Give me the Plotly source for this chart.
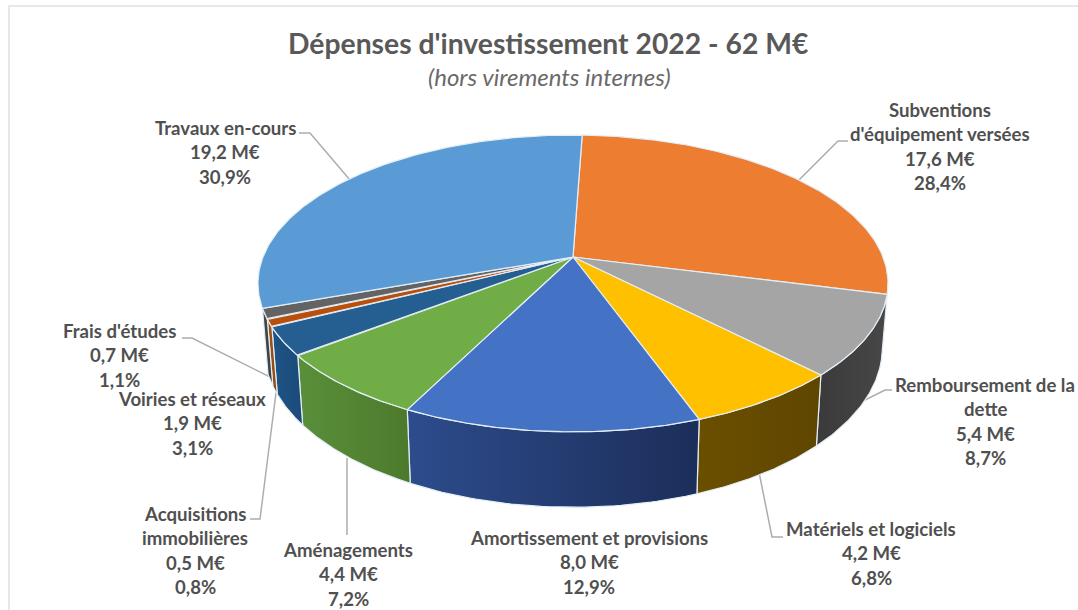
import numpy as np
import plotly.graph_objects as go

categories = ["Subventions d'équipement versées", "Remboursement de la dette", "Matériels et logiciels",
              "Amortissement et provisions", "Aménagements", "Voiries et réseaux",
              "Acquisitions immobilières", "Frais d'études", "Travaux en-cours"]
values = [17.6, 5.4, 4.2, 8.0, 4.4, 1.9, 0.5, 0.7, 19.2]
value_labels = ["17,6 M€", "5,4 M€", "4,2 M€", "8,0 M€", "4,4 M€", "1,9 M€", "0,5 M€", "0,7 M€", "19,2 M€"]
percent_labels = ["28,4%", "8,7%", "6,8%", "12,9%", "7,2%", "3,1%", "0,8%", "1,1%", "30,9%"]
name_lines = [["Subventions", "d'équipement versées"], ["Remboursement de la", "dette"], ["Matériels et logiciels"],
              ["Amortissement et provisions"], ["Aménagements"], ["Voiries et réseaux"],
              ["Acquisitions", "immobilières"], ["Frais d'études"], ["Travaux en-cours"]]
top_colors = ["#ED7D31", "#A5A5A5", "#FFC000", "#4472C4", "#70AD47", "#255E91", "#B84F0C", "#636363", "#5B9BD5"]
wall_left = [None, "#3A3A3A", "#6B4F00", "#2D4C8C", "#5A8F3A", "#1F5487", "#A0561F", "#4A4A4A", None]
wall_right = [None, "#474747", "#5F4600", "#1C2E5A", "#4C7A2C", "#1A4A78", "#8C480E", "#3C3C3C", None]

# label placement (centre x, y of first line)
label_pos = [(940, 110), (985, 385), (871, 529), (589, 538), (348, 550), (192, 399), (195, 514), (119, 331), (225, 128)]
LINE = 24.4
EDGE = "#E4EEF6"

# projection of the tilted disc
X0, Y0, A, B, K, H = 573, 257, 310, 143.7, 0.178, 62
START = 2.0


def project(theta, z=0.0):
    u, v = np.sin(theta), -np.cos(theta)
    d = 1 - K * v
    xs = X0 + A * u / d * (1 - 0.018 * z)
    ys = Y0 + (B * v + H * z) / d
    return xs, ys


total = sum(values)
edges = np.radians(START + np.concatenate([[0], np.cumsum(values)]) / total * 360)

fig = go.Figure()

# side walls
for i, c in enumerate(categories):
    if wall_left[i] is None:
        continue
    t = np.linspace(edges[i], edges[i + 1], 50)
    x1, y1 = project(t)
    x2, y2 = project(t, 1.0)
    fig.add_trace(go.Scatter(
        x=np.r_[x1, x2[::-1], x1[0]], y=np.r_[y1, y2[::-1], y1[0]],
        mode="lines", fill="toself", line=dict(color=EDGE, width=1.2),
        fillgradient=dict(type="horizontal", colorscale=[[0, wall_left[i]], [1, wall_right[i]]]),
        hoverinfo="skip", showlegend=False))

# top face
for i, c in enumerate(categories):
    t = np.linspace(edges[i], edges[i + 1], 120)
    x1, y1 = project(t)
    fig.add_trace(go.Scatter(
        x=np.r_[X0, x1, X0], y=np.r_[Y0, y1, Y0],
        mode="lines", fill="toself", fillcolor=top_colors[i],
        line=dict(color=EDGE, width=1.2), name=c, hoverinfo="name", showlegend=False))

annotations = []


def text(x, y, s, size=18.6, **kw):
    annotations.append(dict(x=x, y=y, text=s, showarrow=False, xref="x", yref="y",
                            xanchor="center", yanchor="middle",
                            font=dict(family="Lato", size=size, color=kw.pop("color", "#505050"))))


text(548, 43, "<b>Dépenses d'investissement 2022 - 62 M€</b>", size=28.3, color="#595959")
text(549, 76, "<i>(hors virements internes)</i>", size=24, color="#6A6A6A")
for i in range(len(categories)):
    lines = name_lines[i] + [value_labels[i], percent_labels[i]]
    x, y = label_pos[i]
    for j, s in enumerate(lines):
        text(x, y + j * LINE, f"<b>{s}</b>")

leaders = [[(299, 133), (310, 133), (350, 180)],
           [(798, 181), (838, 141), (848, 141)],
           [(859, 403), (885, 390), (892, 390)],
           [(759, 472), (772, 537), (783, 537)],
           [(347, 458), (347, 535)],
           [(250, 519), (260, 519), (277, 385)],
           [(182, 338), (192, 338), (272, 378)]]
shapes = [dict(type="path", xref="x", yref="y",
               path="M" + " L".join(f"{px},{py}" for px, py in pts),
               line=dict(color="#ADADAD", width=1.5), layer="below") for pts in leaders]
# frame
shapes.append(dict(type="rect", xref="x", yref="y", x0=9, y0=6, x1=1090, y1=620,
                   line=dict(color="#E8E8E8", width=2), layer="below"))

fig.update_layout(
    width=1078, height=610, margin=dict(l=0, r=0, t=0, b=0),
    paper_bgcolor="white", plot_bgcolor="white", showlegend=False,
    xaxis=dict(range=[0, 1078], visible=False, fixedrange=True),
    yaxis=dict(range=[610, 0], visible=False, fixedrange=True),
    annotations=annotations, shapes=shapes)
fig.write_html("out.html", config=dict(displayModeBar=False),
               post_script="document.body.style.margin='0';document.documentElement.style.overflow='hidden';")
